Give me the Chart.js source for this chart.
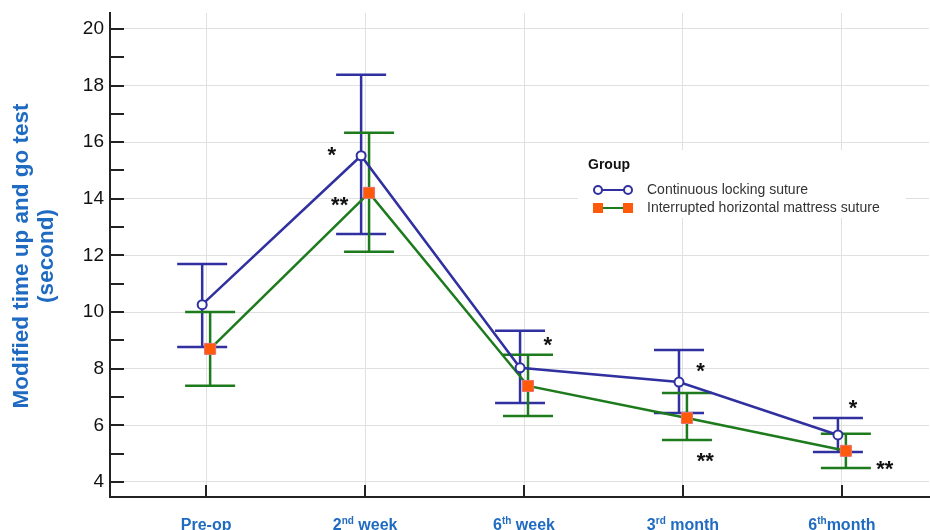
<!DOCTYPE html>
<html>
<head>
<meta charset="utf-8">
<script src="https://cdn.jsdelivr.net/npm/chart.js@4.4.0/dist/chart.umd.min.js"></script>
<style>
  html, body { margin: 0; padding: 0; background: #fff; }
</style>
</head>
<body>
<canvas id="tugChart" width="930" height="530"></canvas>
<script>
const categories = ["Pre-op", "2nd week", "6th week", "3rd month", "6thmonth"];
const yTicks = [4, 6, 8, 10, 12, 14, 16, 18, 20];
const yMinorTicks = [5, 7, 9, 11, 13, 15, 17, 19];

const continuousMean = [10.26, 15.52, 8.03, 7.53, 5.66];
const continuousUpper = [11.7, 18.38, 9.34, 8.66, 6.26];
const continuousLower = [8.77, 12.76, 6.79, 6.44, 5.06];

const interruptedMean = [8.7, 14.21, 7.39, 6.26, 5.1];
const interruptedUpper = [10.0, 16.33, 8.49, 7.14, 5.7];
const interruptedLower = [7.4, 12.13, 6.33, 5.48, 4.49];

// significance marks, in data units
const starX = [0.79, 0.84, 2.15, 3.11, 3.14, 4.07, 4.27];
const starY = [15.73, 13.96, 9.02, 8.1, 4.92, 6.79, 4.67];
const starText = ["*", "**", "*", "*", "**", "*", "**"];

const FONT = "'Liberation Sans', Arial, sans-serif";
const BLUE = "#3030a0";
const GREEN = "#1d7a1d";
const TITLE_BLUE = "#1f6bc2";

function toPoints(means, shift) {
  return means.map((v, i) => ({ x: i + shift, y: v }));
}

const errorBars = {
  id: "errorBars",
  beforeDatasetsDraw(chart) {
    const ctx = chart.ctx;
    const x = chart.scales.x;
    const y = chart.scales.y;
    const area = chart.chartArea;

    ctx.save();
    // inward ticks
    ctx.strokeStyle = "#222";
    ctx.lineWidth = 2;
    ctx.beginPath();
    yTicks.concat(yMinorTicks).forEach((v) => {
      const py = Math.round(y.getPixelForValue(v));
      ctx.moveTo(area.left, py);
      ctx.lineTo(area.left + 14, py);
    });
    categories.forEach((c, i) => {
      const px = Math.round(x.getPixelForValue(i));
      ctx.moveTo(px, area.bottom);
      ctx.lineTo(px, area.bottom - 12);
    });
    ctx.stroke();

    const bars = [
      { color: BLUE, shift: -0.025, up: continuousUpper, lo: continuousLower },
      { color: GREEN, shift: 0.025, up: interruptedUpper, lo: interruptedLower },
    ];
    bars.forEach((b) => {
      ctx.strokeStyle = b.color;
      ctx.lineWidth = 2.5;
      ctx.beginPath();
      b.up.forEach((u, i) => {
        const px = x.getPixelForValue(i + b.shift);
        const pu = y.getPixelForValue(u);
        const pl = y.getPixelForValue(b.lo[i]);
        ctx.moveTo(px, pu);
        ctx.lineTo(px, pl);
        ctx.moveTo(px - 25, pu);
        ctx.lineTo(px + 25, pu);
        ctx.moveTo(px - 25, pl);
        ctx.lineTo(px + 25, pl);
      });
      ctx.stroke();
    });
    ctx.restore();
  },
  afterDraw(chart) {
    const ctx = chart.ctx;
    const x = chart.scales.x;
    const y = chart.scales.y;
    ctx.save();

    // stars
    ctx.fillStyle = "#111";
    ctx.font = "bold 22px " + FONT;
    ctx.textAlign = "center";
    ctx.textBaseline = "alphabetic";
    starText.forEach((t, i) => {
      ctx.fillText(t, x.getPixelForValue(starX[i]), y.getPixelForValue(starY[i]) + 12.5);
    });

    // x labels with superscripts
    ctx.fillStyle = TITLE_BLUE;
    ctx.textAlign = "left";
    categories.forEach((c, i) => {
      const m = c.match(/^(\d)(st|nd|rd|th)(.*)$/);
      const parts = m ? [m[1], m[2], m[3]] : [c, "", ""];
      ctx.font = "bold 16px " + FONT;
      const w0 = ctx.measureText(parts[0]).width;
      const w2 = ctx.measureText(parts[2]).width;
      ctx.font = "bold 10px " + FONT;
      const w1 = ctx.measureText(parts[1]).width;
      let px = x.getPixelForValue(i) - (w0 + w1 + w2) / 2;
      const base = 530;
      ctx.font = "bold 16px " + FONT;
      ctx.fillText(parts[0], px, base);
      px += w0;
      ctx.font = "bold 10px " + FONT;
      ctx.fillText(parts[1], px, base - 6);
      px += w1;
      ctx.font = "bold 16px " + FONT;
      ctx.fillText(parts[2], px, base);
    });

    // y title
    ctx.font = "bold 22.5px " + FONT;
    ctx.textAlign = "center";
    ctx.save();
    ctx.translate(28, 256);
    ctx.rotate(-Math.PI / 2);
    ctx.fillText("Modified time up and go test", 0, 0);
    ctx.restore();
    ctx.save();
    ctx.translate(53, 256);
    ctx.rotate(-Math.PI / 2);
    ctx.fillText("(second)", 0, 0);
    ctx.restore();

    // legend
    ctx.fillStyle = "#fff";
    ctx.fillRect(578, 150, 328, 68);
    ctx.fillStyle = "#111";
    ctx.textAlign = "left";
    ctx.textBaseline = "middle";
    ctx.font = "bold 14px " + FONT;
    ctx.fillText("Group", 588, 165);
    ctx.font = "14px " + FONT;
    ctx.fillStyle = "#333";
    ctx.fillText("Continuous locking suture", 647, 190);
    ctx.fillText("Interrupted horizontal mattress suture", 647, 208);

    ctx.lineWidth = 2;
    ctx.strokeStyle = BLUE;
    ctx.beginPath();
    ctx.moveTo(598, 190);
    ctx.lineTo(628, 190);
    ctx.stroke();
    [598, 628].forEach((cx) => {
      ctx.beginPath();
      ctx.arc(cx, 190, 4, 0, Math.PI * 2);
      ctx.fillStyle = "#fff";
      ctx.fill();
      ctx.stroke();
    });
    ctx.strokeStyle = GREEN;
    ctx.beginPath();
    ctx.moveTo(598, 208);
    ctx.lineTo(628, 208);
    ctx.stroke();
    [598, 628].forEach((cx) => {
      ctx.fillStyle = "#ff5a0a";
      ctx.fillRect(cx - 5, 203, 10, 10);
    });

    ctx.restore();
  },
};

const ctx = document.getElementById("tugChart").getContext("2d");
const tugChart = new Chart(ctx, {
  type: "scatter",
  data: {
    datasets: [
      {
        label: "Continuous locking suture",
        data: toPoints(continuousMean, -0.025),
        showLine: true,
        borderColor: BLUE,
        borderWidth: 2.5,
        pointStyle: "circle",
        pointRadius: 4.5,
        pointBorderWidth: 2,
        pointBackgroundColor: "#fff",
        pointBorderColor: BLUE,
      },
      {
        label: "Interrupted horizontal mattress suture",
        data: toPoints(interruptedMean, 0.025),
        showLine: true,
        borderColor: GREEN,
        borderWidth: 2.5,
        pointStyle: "rect",
        pointRadius: 7.8,
        pointBorderWidth: 1,
        pointBackgroundColor: "#ff5a0a",
        pointBorderColor: "#e87070",
      },
    ],
  },
  options: {
    responsive: false,
    animation: false,
    devicePixelRatio: 1,
    layout: { autoPadding: false, padding: { top: 13, right: 1, left: 0, bottom: 0 } },
    plugins: {
      legend: { display: false },
      tooltip: { enabled: false },
    },
    scales: {
      x: {
        type: "linear",
        min: -0.605,
        max: 4.548,
        afterBuildTicks: (scale) => {
          scale.ticks = categories.map((c, i) => ({ value: i }));
        },
        afterFit: (scale) => {
          scale.height = 33;
          scale.paddingLeft = 0;
          scale.paddingRight = 0;
        },
        ticks: { display: false },
        grid: { color: "#e0e0e0", lineWidth: 1, drawTicks: false },
        border: { display: true, color: "#222", width: 2 },
      },
      y: {
        min: 3.47,
        max: 20.56,
        afterBuildTicks: (scale) => {
          scale.ticks = yTicks.map((v) => ({ value: v }));
        },
        afterFit: (scale) => {
          scale.width = 110;
          scale.paddingTop = 0;
          scale.paddingBottom = 0;
        },
        ticks: {
          color: "#111",
          padding: 6,
          font: { family: FONT, size: 19 },
        },
        grid: { color: "#e0e0e0", lineWidth: 1, drawTicks: false },
        border: { display: true, color: "#222", width: 2 },
      },
    },
  },
  plugins: [errorBars],
});
</script>
</body>
</html>
